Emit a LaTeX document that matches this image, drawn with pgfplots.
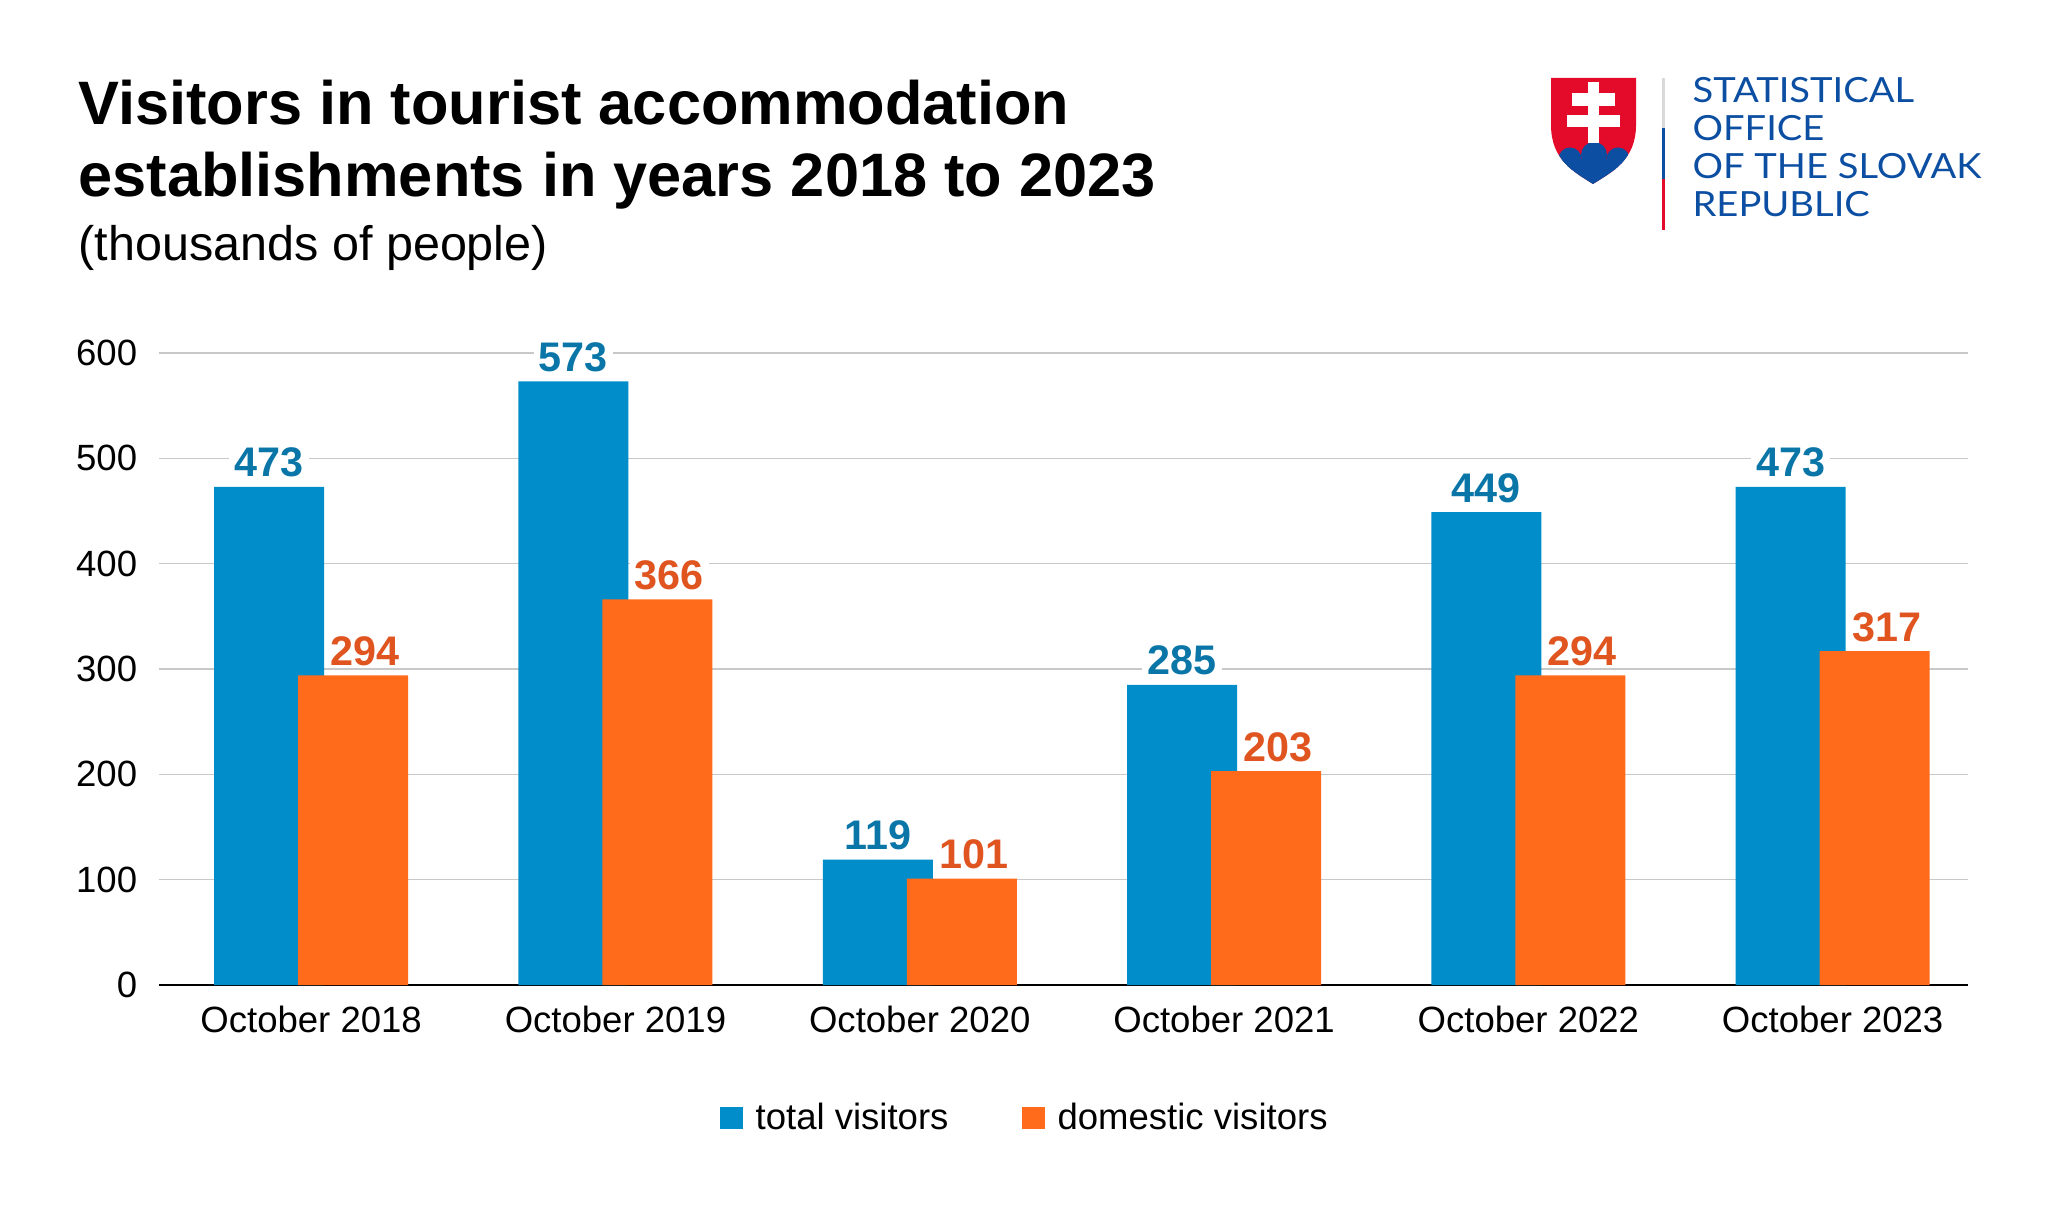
\documentclass[border=0pt]{standalone}
\usepackage{fontspec}
\setmainfont{Liberation Sans}
\newfontfamily\logofont[FakeStretch=1.1]{Lato}
\usepackage{pgfplots}
\pgfplotsset{compat=1.18}

\definecolor{tblue}{HTML}{008DC9}
\definecolor{torange}{HTML}{FF6B1A}
\definecolor{tbluetext}{HTML}{0A76A8}
\definecolor{torangetext}{HTML}{E05420}
\definecolor{gridgray}{HTML}{C8C8C8}
\definecolor{logoblue}{HTML}{0B4EA2}
\definecolor{logored}{HTML}{E30A2A}

\begin{document}
\begin{tikzpicture}
% page frame, 2048 x 1210 px at 0.375pt per px
\path[use as bounding box] (0,0) rectangle (768pt,-453.75pt);

\begin{axis}[
  at={(59.625pt,-369.375pt)}, anchor=south west,
  scale only axis, width=678.4pt, height=237pt,
  ybar, bar width=41.25pt,
  xmin=-0.5, xmax=5.445, ymin=0, ymax=600,
  xtick={0,1,2,3,4,5},
  xticklabels={October 2018,October 2019,October 2020,October 2021,October 2022,October 2023},
  ytick={0,100,...,600},
  axis x line*=bottom, axis y line*=left,
  y axis line style={draw=none},
  x axis line style={black, line width=0.8pt},
  major tick length=0pt,
  ymajorgrids, grid style={draw=gridgray, line width=0.56pt},
  /pgf/number format/assume math mode=true,
  tick label style={font=\fontsize{13.7}{16}\selectfont},
  xticklabel style={anchor=north, inner sep=0pt, yshift=-7.8pt},
  yticklabel style={anchor=east, inner sep=0pt, xshift=-8pt},
  nodes near coords,
  nodes near coords style={font=\bfseries\fontsize{15.5}{18}\selectfont,
    fill=white, inner xsep=2pt, inner ysep=0pt, yshift=3.4pt},
  legend style={at={(0.4794,-0.2104)}, anchor=center, draw=none,
    legend columns=-1, font=\fontsize{13.7}{16}\selectfont,
    /tikz/every odd column/.append style={column sep=2.9pt},
    /tikz/every even column/.append style={column sep=25.4pt}},
  legend image code/.code={\fill[#1,draw=none] (0pt,-4.3pt) rectangle (8.6pt,4.3pt);},
]
\addplot[fill=tblue, draw=none, bar shift=-15.75pt,
  every node near coord/.append style={text=tbluetext}]
  coordinates {(0,473) (1,573) (2,119) (3,285) (4,449) (5,473)};
\addplot[fill=torange, draw=none, bar shift=15.75pt,
  every node near coord/.append style={text=torangetext, xshift=4.5pt}]
  coordinates {(0,294) (1,366) (2,101) (3,203) (4,294) (5,317)};
\legend{total visitors, domestic visitors}
\end{axis}

\begin{scope}[x=0.375pt, y=-0.375pt]
  % titles
  \node[anchor=base west, inner sep=0pt, font=\bfseries\fontsize{23}{27}\selectfont]
    at (78,125) {Visitors in tourist accommodation};
  \node[anchor=base west, inner sep=0pt, font=\bfseries\fontsize{23}{27}\selectfont]
    at (78,197) {establishments in years 2018 to 2023};
  \node[anchor=base west, inner sep=0pt, font=\fontsize{18.2}{22}\selectfont]
    at (78,261) {(thousands of people)};

  % logo: shield
  \begin{scope}
    \clip (1551,78) -- (1636,78) -- (1636,125)
      .. controls (1636,160) and (1612,172) .. (1593,184)
      .. controls (1574,172) and (1551,160) .. (1551,125) -- cycle;
    \fill[logored] (1545,70) rectangle (1645,190);
    \fill[logoblue] (1570,159) circle (11.5);
    \fill[logoblue] (1594,155) circle (13);
    \fill[logoblue] (1618,159) circle (11.5);
    \fill[logoblue] (1545,159) rectangle (1645,190);
  \end{scope}
  \fill[white] (1588,82) rectangle (1599,143);
  \fill[white] (1572,93) rectangle (1615,106);
  \fill[white] (1567,115) rectangle (1620,127);

  % logo: separator
  \fill[gray!30] (1662,78) rectangle (1665,128);
  \fill[logoblue] (1662,128) rectangle (1665,179);
  \fill[logored] (1662,179) rectangle (1665,230);

  % logo: text
  \begin{scope}[every node/.style={anchor=base west, inner sep=0pt,
      font=\logofont\fontsize{13}{14}\selectfont, text=logoblue}]
    \node at (1692,103) {STATISTICAL};
    \node at (1692,141) {OFFICE};
    \node at (1692,179) {OF THE SLOVAK};
    \node at (1692,217) {REPUBLIC};
  \end{scope}
\end{scope}
\end{tikzpicture}
\end{document}
